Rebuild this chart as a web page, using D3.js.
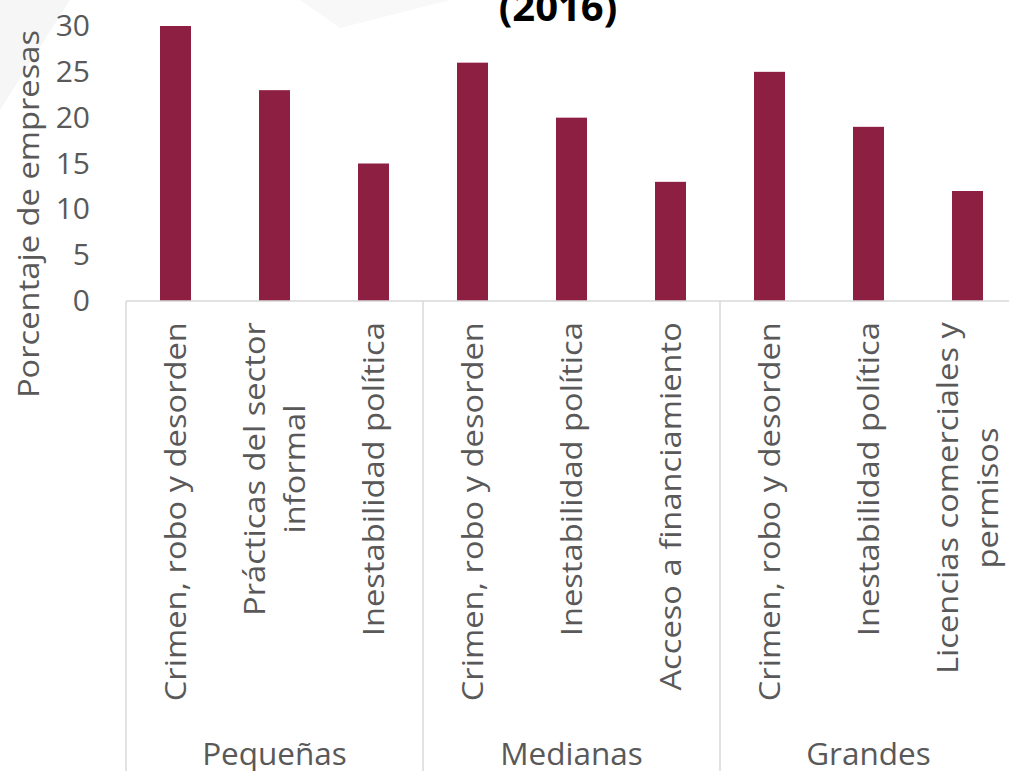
<!DOCTYPE html>
<html>
<head>
<meta charset="utf-8">
<script src="https://cdn.jsdelivr.net/npm/d3@7"></script>
<style>
    html, body { margin: 0; padding: 0; background: #ffffff; }
    svg { display: block; font-family: "Open Sans", "Noto Sans", sans-serif; }
</style>
</head>
<body>
<svg id="chart" width="1009" height="771"></svg>
<script>
// Data
const groups = ['Pequeñas', 'Medianas', 'Grandes'];
const barGroups = ['Pequeñas', 'Pequeñas', 'Pequeñas', 'Medianas', 'Medianas', 'Medianas', 'Grandes', 'Grandes', 'Grandes'];
const barLabels = [
    ['Crimen, robo y desorden'],
    ['Prácticas del sector', 'informal'],
    ['Inestabilidad política'],
    ['Crimen, robo y desorden'],
    ['Inestabilidad política'],
    ['Acceso a financiamiento'],
    ['Crimen, robo y desorden'],
    ['Inestabilidad política'],
    ['Licencias comerciales y', 'permisos'],
];
const values = [30, 23, 15, 26, 20, 13, 25, 19, 12];
const yTicks = [0, 5, 10, 15, 20, 25, 30];
const titleText = '(2016)';
const yTitle = 'Porcentaje de empresas';

const width = 1009, height = 771;
const left = 126, right = 1017, baseY = 301, topY = 26;
const barColor = '#8c1f42';
const textColor = '#595959';
const lineColor = '#d9d9d9';
const stretch = 1.09; // rotated text runs a bit longer than the horizontal text

const svg = d3.select('#chart');

// faint background watermark
svg.append('polygon')
    .attr('points', '0,0 70,0 0,110')
    .attr('fill', '#f6f6f6');
svg.append('polygon')
    .attr('points', '300,0 450,0 340,28')
    .attr('fill', '#f8f8f8');

const idx = d3.range(values.length);

const x = d3.scaleBand()
    .domain(idx)
    .range([left, right])
    .paddingInner(0.687)
    .paddingOuter(0.3435);

const y = d3.scaleLinear()
    .domain([0, 30])
    .range([baseY, topY]);

// Title
svg.append('text')
    .attr('x', 558).attr('y', 21)
    .attr('text-anchor', 'middle')
    .attr('font-size', 40).attr('font-weight', 'bold')
    .attr('fill', '#000')
    .text(titleText);

// Bars
svg.append('g').selectAll('rect').data(idx).join('rect')
    .attr('x', i => x(i))
    .attr('y', i => y(values[i]))
    .attr('width', x.bandwidth())
    .attr('height', i => baseY - y(values[i]))
    .attr('fill', barColor);

// Y axis labels
const yAxis = svg.append('g')
    .attr('transform', `translate(${left},0)`)
    .call(d3.axisLeft(y).tickValues(yTicks).tickSize(0).tickPadding(36));
yAxis.select('.domain').remove();
yAxis.selectAll('text')
    .attr('font-family', '"Open Sans", sans-serif')
    .attr('font-size', 30)
    .attr('fill', textColor);

// Y title (top end of the text sits near y = 30)
svg.append('text')
    .attr('transform', `translate(39,30) rotate(-90) scale(${stretch},1)`)
    .attr('text-anchor', 'end')
    .attr('font-size', 30)
    .attr('fill', textColor)
    .text(yTitle);

// Horizontal axis line + group separators
const step = x.step();
const groupEdges = d3.range(groups.length + 1).map(g => left + g * 3 * step);
svg.append('line')
    .attr('x1', left).attr('x2', right)
    .attr('y1', baseY).attr('y2', baseY)
    .attr('stroke', lineColor).attr('stroke-width', 1.5);
svg.append('g').selectAll('line').data(groupEdges).join('line')
    .attr('x1', d => d).attr('x2', d => d)
    .attr('y1', baseY).attr('y2', height)
    .attr('stroke', lineColor).attr('stroke-width', 1.5);

// Category labels (rotated, lines centred on each other, top aligned)
const labelTop = 322, lineGap = 40;
idx.forEach(i => {
    const cx = x(i) + x.bandwidth() / 2;
    const lines = barLabels[i];
    const g = svg.append('g');
    const texts = g.selectAll('text').data(lines).join('text')
        .attr('text-anchor', 'middle')
        .attr('font-size', 30)
        .attr('fill', textColor)
        .text(d => d);
    let maxLen = 0;
    texts.each(function() { maxLen = Math.max(maxLen, this.getComputedTextLength()); });
    texts.attr('x', 0)
        .attr('y', (d, j) => (j - (lines.length - 1) / 2) * lineGap + 10.5);
    g.attr('transform', `translate(${cx},${labelTop + maxLen * stretch / 2}) rotate(-90) scale(${stretch},1)`);
});

// Group labels
svg.append('g').selectAll('text').data(groups).join('text')
    .attr('x', (d, g) => (groupEdges[g] + groupEdges[g + 1]) / 2)
    .attr('y', 765)
    .attr('text-anchor', 'middle')
    .attr('font-size', 31.5)
    .attr('fill', textColor)
    .text(d => d);
</script>
</body>
</html>
